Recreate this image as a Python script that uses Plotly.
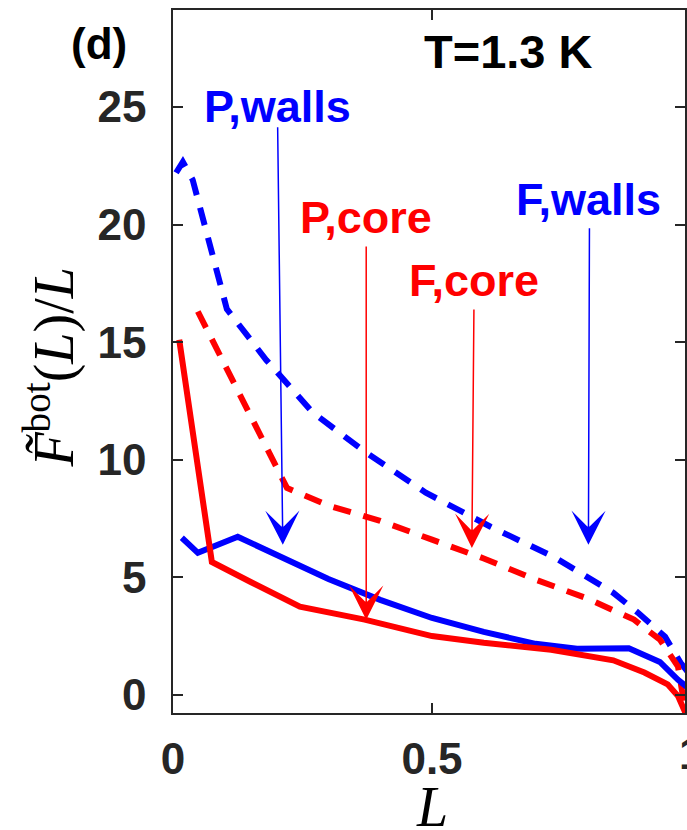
import plotly.graph_objects as go

# Normalised free energy per length, F^bot(L)/L, at T = 1.3 K
# P = solid curves, F = dashed curves; walls = blue, core = red
L_p_walls = [0.017, 0.048, 0.125, 0.2, 0.3, 0.4, 0.5, 0.6, 0.7, 0.78, 0.88, 0.94, 0.975, 1.0]
F_p_walls = [6.68, 6.04, 6.72, 5.95, 4.93, 4.04, 3.27, 2.68, 2.17, 1.96, 1.98, 1.4, 0.64, 0.2]

L_p_core = [0.012, 0.075, 0.15, 0.245, 0.37, 0.5, 0.6, 0.73, 0.85, 0.91, 0.955, 0.975, 0.99]
F_p_core = [15.1, 5.65, 4.8, 3.75, 3.2, 2.5, 2.22, 1.92, 1.47, 0.95, 0.45, -0.05, -0.8]

L_f_walls = [0.006, 0.019, 0.038, 0.104, 0.18, 0.27, 0.373, 0.488, 0.613, 0.735, 0.85, 0.9, 0.95, 0.98, 1.0]
F_f_walls = [22.2, 22.66, 21.9, 16.4, 14.24, 12.0, 10.3, 8.6, 7.15, 5.87, 4.34, 3.45, 2.47, 1.36, 0.8]

L_f_core = [0.048, 0.22, 0.3, 0.4, 0.5, 0.6, 0.7, 0.8, 0.89, 0.94, 0.975, 0.99]
F_f_core = [16.3, 8.8, 8.05, 7.4, 6.6, 5.8, 4.9, 4.1, 3.2, 2.35, 1.2, -0.8]

x_ticks = [0, 0.5, 1]
x_tick_labels = ["0", "0.5", "1"]
y_ticks = [0, 5, 10, 15, 20, 25]
y_tick_labels = ["0", "5", "10", "15", "20", "25"]

# Curve labels: text, colour, label centre, arrow tail, arrow tip (data units)
curve_labels = ["P,walls", "P,core", "F,core", "F,walls"]
label_colors = ["#0000FF", "#FF0000", "#FF0000", "#0000FF"]
label_xy = [(0.202, 25.0), (0.373, 20.3), (0.581, 17.6), (0.802, 21.05)]
arrow_tail = [(0.202, 24.2), (0.373, 19.13), (0.581, 16.45), (0.804, 19.9)]
arrow_tip = [(0.212, 6.38), (0.373, 3.2), (0.577, 6.25), (0.802, 6.38)]

BLUE = "#0000FF"
RED = "#FF0000"
AXIS = "#262626"
SANS = "Liberation Sans, Arial, Helvetica, sans-serif"
SERIF = "Liberation Serif, Times New Roman, serif"

fig = go.Figure()

series = [
    (L_f_walls, F_f_walls, BLUE, "18px,13px"),
    (L_f_core, F_f_core, RED, "18px,13px"),
    (L_p_walls, F_p_walls, BLUE, "solid"),
    (L_p_core, F_p_core, RED, "solid"),
]
for xs, ys, col, dash in series:
    fig.add_trace(go.Scatter(x=xs, y=ys, mode="lines",
                             line=dict(color=col, width=6, dash=dash),
                             showlegend=False, hoverinfo="skip"))

annotations = []
for txt, col, (lx, ly), (tx, ty), (hx, hy) in zip(curve_labels, label_colors,
                                                   label_xy, arrow_tail, arrow_tip):
    annotations.append(dict(x=lx, y=ly, xref="x", yref="y", text=txt,
                            showarrow=False, xanchor="center", yanchor="middle",
                            font=dict(family=SANS, size=45, color=col, weight="bold")))
    annotations.append(dict(x=hx, y=hy, xref="x", yref="y", ax=tx, ay=ty,
                            axref="x", ayref="y", text="", showarrow=True,
                            arrowhead=3, arrowsize=3.8, arrowwidth=1.5,
                            arrowcolor=col, standoff=0, startstandoff=0))

annotations += [
    dict(x=-0.144, y=0.952, xref="paper", yref="paper", text="(d)", showarrow=False,
         xanchor="center", yanchor="middle",
         font=dict(family=SANS, size=44, color="black", weight="bold")),
    dict(x=0.648, y=27.35, xref="x", yref="y", text="T=1.3 K", showarrow=False,
         xanchor="center", yanchor="middle",
         font=dict(family=SANS, size=47, color="black", weight="bold")),
    # tick label of the right-hand limit, which falls on the figure edge
    dict(x=1.0117, y=-0.0583, xref="paper", yref="paper", text=x_tick_labels[2],
         showarrow=False, xanchor="center", yanchor="middle",
         font=dict(family=SANS, size=44, color=AXIS, weight="bold")),
    dict(x=0.5058, y=-0.1337, xref="paper", yref="paper", text="<i>L</i>",
         showarrow=False, xanchor="center", yanchor="middle",
         font=dict(family=SERIF, size=56, color="black")),
    dict(x=-0.239, y=13.9, xref="paper", yref="y", textangle=-90, showarrow=False,
         xanchor="center", yanchor="middle",
         text="<i>F\u0303</i><sup>bot</sup>(<i>L</i>)/<i>L</i>",
         font=dict(family=SERIF, size=56, color="black")),
]

axis_common = dict(showline=True, linecolor=AXIS, linewidth=1.5, mirror="allticks",
                   ticks="inside", ticklen=10, tickwidth=1.5, tickcolor=AXIS,
                   showgrid=False, zeroline=False,
                   tickfont=dict(family=SANS, size=44, color=AXIS, weight="bold"))

fig.update_layout(
    width=687, height=830,
    margin=dict(l=173, r=0, t=10, b=117),
    paper_bgcolor="white", plot_bgcolor="white",
    xaxis=dict(range=[0, 514 / 520], tickvals=x_ticks[:2], ticktext=x_tick_labels[:2],
               ticklabelstandoff=6, **axis_common),
    yaxis=dict(range=[-0.77, 29.12], tickvals=y_ticks, ticktext=y_tick_labels,
               ticklabelstandoff=16, **axis_common),
    annotations=annotations,
)

fig.write_html("out.html")
